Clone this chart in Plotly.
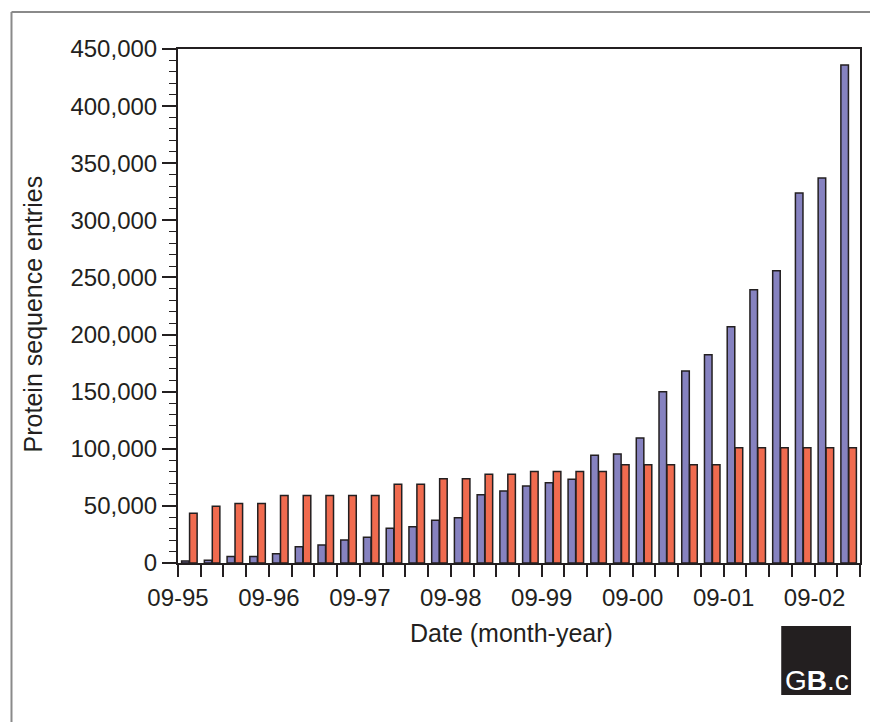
import plotly.graph_objects as go

# Quarterly snapshots, starting 09-95 (one group per quarter)
quarters = list(range(30))
tick_labels = ["09-95", "09-96", "09-97", "09-98", "09-99", "09-00", "09-01", "09-02"]

# Protein sequence entries per snapshot
trembl_entries = [
    1700, 2300, 5800, 5800, 8200, 14300, 15800, 20100, 22500, 30400,
    31800, 37400, 39700, 59800, 63000, 67400, 70300, 73300, 94300, 95400,
    109500, 150000, 168000, 182400, 206900, 239300, 255900, 323900, 337100, 436000,
]
swissprot_entries = [
    43500, 49600, 52000, 52000, 59000, 59000, 59000, 59000, 59000, 68900,
    68900, 73800, 73800, 77600, 77600, 80000, 80000, 80000, 80000, 86100,
    86100, 86100, 86100, 86100, 101000, 101000, 101000, 101000, 101000, 101000,
]

W, H = 870, 722
ML, MR, MT, MB = 178, 8, 49, 159
PW, PH = W - ML - MR, H - MT - MB

INK = "#231f20"
BLUE = "#8682c0"
RED = "#f06b4f"
FONT = "Liberation Sans, Arial, sans-serif"


def fx(x):
    return (x - ML) / PW


def fy(y):
    return (H - MB - y) / PH


centers = [q + 0.5 for q in quarters]

fig = go.Figure()
fig.add_trace(go.Bar(
    x=centers, y=trembl_entries, name="TrEMBL",
    marker=dict(color=BLUE, line=dict(color=INK, width=1.5)),
))
fig.add_trace(go.Bar(
    x=centers, y=swissprot_entries, name="SWISS-PROT",
    marker=dict(color=RED, line=dict(color=INK, width=1.5)),
))

tickvals = list(range(len(quarters) + 1))
ticktext = [tick_labels[i // 4] if i % 4 == 0 and i // 4 < len(tick_labels) else "" for i in tickvals]

fig.update_layout(
    width=W, height=H,
    margin=dict(l=ML, r=MR, t=MT, b=MB, pad=0),
    paper_bgcolor="white", plot_bgcolor="white",
    barmode="group", bargap=0.3, bargroupgap=0.05,
    showlegend=False,
    font=dict(family=FONT, color=INK, size=24),
    xaxis=dict(
        range=[0, len(quarters)], tickmode="array", tickvals=tickvals, ticktext=ticktext,
        ticks="outside", ticklen=12, tickwidth=1.5, tickcolor=INK,
        showline=True, linecolor=INK, linewidth=2, mirror=True,
        showgrid=False, zeroline=False,
        tickfont=dict(size=24, color=INK),
    ),
    yaxis=dict(
        range=[0, 450000], tickmode="linear", dtick=50000, tickformat=",d",
        ticks="outside", ticklen=14, tickwidth=1.5, tickcolor=INK,
        minor=dict(dtick=10000, ticks="outside", ticklen=7, tickwidth=1.2, tickcolor=INK, showgrid=False),
        showline=True, linecolor=INK, linewidth=2, mirror=True,
        showgrid=False, zeroline=False,
        tickfont=dict(size=24, color=INK),
    ),
)

fig.add_annotation(
    text="Protein sequence entries", textangle=-90,
    x=fx(33), y=fy(314), xref="paper", yref="paper",
    xanchor="center", yanchor="middle", showarrow=False,
    font=dict(size=25, color=INK),
)
fig.add_annotation(
    text="Date (month-year)",
    x=fx(512), y=fy(633), xref="paper", yref="paper",
    xanchor="center", yanchor="middle", showarrow=False,
    font=dict(size=25, color=INK),
)

# Outer frame (top and left edges of the panel)
fig.add_shape(type="line", xref="paper", yref="paper",
              x0=fx(11), y0=fy(12), x1=fx(W + 5), y1=fy(12),
              line=dict(color="#8a8a8a", width=2))
fig.add_shape(type="line", xref="paper", yref="paper",
              x0=fx(11), y0=fy(12), x1=fx(11), y1=fy(H + 5),
              line=dict(color="#8a8a8a", width=2))

# GB.c badge
fig.add_shape(type="rect", xref="paper", yref="paper",
              x0=fx(783), x1=fx(853), y0=fy(695), y1=fy(626),
              fillcolor=INK, line=dict(width=0))
fig.add_annotation(
    text="G<b>B</b>.c",
    x=fx(819), y=fy(680), xref="paper", yref="paper",
    xanchor="center", yanchor="middle", showarrow=False,
    font=dict(size=28, color="white", family=FONT),
)

fig.write_html("out.html")
